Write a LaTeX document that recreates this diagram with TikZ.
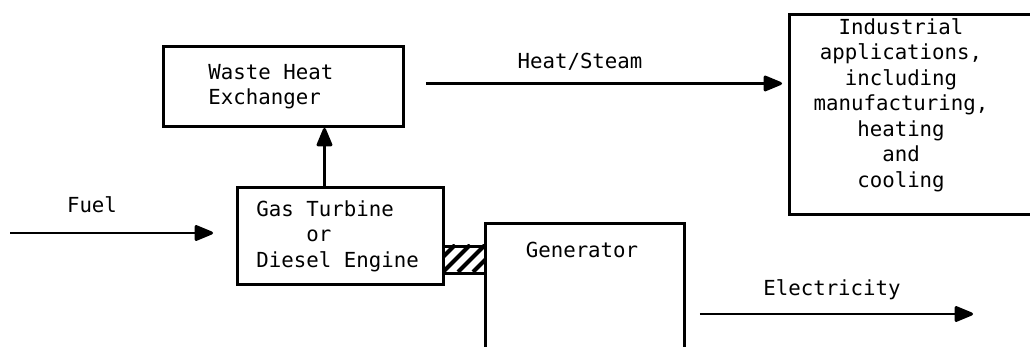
\documentclass[tikz,border=0pt]{standalone}
\usepackage{fontspec}
\setmonofont{DejaVu Sans Mono}
\usetikzlibrary{positioning,arrows.meta}
\newcommand{\plantfont}{\ttfamily\fontsize{11.8}{14.5}\selectfont}
\newcommand{\tsp}{\hphantom{x}}

\begin{document}
\begin{tikzpicture}[x=0.02cm, y=-0.02cm,
  every node/.style={font=\plantfont},
  unit/.style={draw, line width=1.7pt, inner ysep=0pt},
  flow/.style={line width=1.7pt, -{Triangle[length=0.42cm, width=0.33cm, round]}}]
  \clip (0,0) rectangle (1030,347);
  % boxes
  \node[unit, anchor=north west, minimum width=4.8cm, minimum height=1.6cm,
        inner xsep=0.9cm, text width=3cm, align=left] (whe) at (162,45) {Waste\tsp Heat\\Exchanger};
  \node[unit, anchor=north west, minimum width=4.12cm, minimum height=1.94cm,
        inner xsep=0.38cm, text width=3.36cm, align=left] (gt) at (236,186)
        {Gas\tsp Turbine\\\tsp\tsp\tsp\tsp or\\Diesel\tsp Engine};
  \node[unit, anchor=north west, minimum width=3.98cm, minimum height=3cm] (gen) at (484,222) {};
  \node (gentext) at (582,250) {Generator};
  \node[unit, anchor=north west, minimum width=6cm, minimum height=4cm] (apps) at (788,13) {};
  \node[align=center] (appstext) at (901,105)
        {Industrial\\applications,\\including\\manufacturing,\\heating\\and\\cooling};
  % coupling between engine and generator
  \node[draw, line width=1.7pt, anchor=north west, minimum width=0.84cm, minimum height=0.54cm,
        inner sep=0pt] (shaft) at (442,245) {};
  \begin{scope}
    \clip (shaft.south west) rectangle (shaft.north east);
    \foreach \x in {428,443,...,495}
      \draw[line width=2.3pt] (\x,272) -- (\x+27,245);
  \end{scope}
  % flows
  \coordinate (fuelin) at (10,233);
  \coordinate (elecout) at (973,314);
  \draw[flow, shorten >=0.46cm] (fuelin) -- (fuelin -| gt.west);
  \node (fuel) at (92,205) {Fuel};
  \draw[flow] ([xshift=-0.32cm]gt.north) -- ([xshift=-0.32cm]gt.north |- whe.south);
  \draw[flow, shorten <=0.42cm, shorten >=0.12cm] ([yshift=0.06cm]whe.east) -- ([yshift=0.06cm]whe.east -| apps.west);
  \node (heat) at (580,62) {Heat/Steam};
  \draw[flow, shorten <=0.28cm] (gen.east |- elecout) -- (elecout);
  \node (elec) at (832,290) {Electricity};
\end{tikzpicture}
\end{document}
